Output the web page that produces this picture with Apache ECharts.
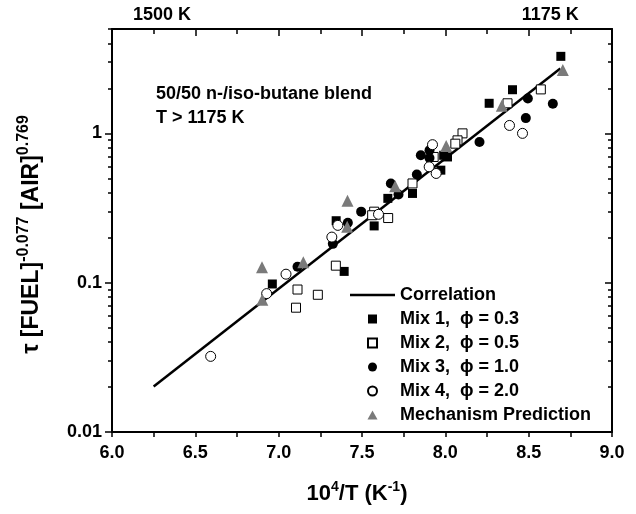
<!DOCTYPE html>
<html><head><meta charset="utf-8">
<script src="https://cdn.jsdelivr.net/npm/echarts@6/dist/echarts.min.js"></script>
<style>html,body{margin:0;padding:0;background:#fff}#c{width:636px;height:514px}</style>
</head><body><div id="c"></div>
<script>
// ---- data ----
const correlation = [[6.25, 0.0202], [8.69, 2.72]];
const mix1 = [[8.693,3.28],[8.403,1.96],[8.263,1.59],[7.99,0.713],[8.013,0.695],[7.973,0.567],[7.803,0.396],[7.655,0.367],[7.573,0.24],[7.345,0.26],[7.393,0.119],[6.962,0.098]];
const mix2 = [[8.573,1.97],[8.373,1.59],[8.103,1.0],[8.073,0.898],[8.06,0.853],[7.93,0.695],[7.803,0.462],[7.573,0.299],[7.561,0.283],[7.657,0.271],[7.343,0.13],[7.113,0.09],[7.235,0.083],[7.104,0.068]];
const mix3 = [[8.495,1.71],[8.645,1.58],[8.483,1.265],[8.205,0.875],[7.853,0.713],[7.905,0.684],[7.905,0.77],[7.829,0.53],[7.673,0.462],[7.719,0.39],[7.495,0.299],[7.415,0.252],[7.325,0.182],[7.113,0.128]];
const mix4 = [[8.385,1.13],[8.463,1.0],[7.923,0.84],[7.903,0.597],[7.945,0.539],[7.599,0.287],[7.355,0.242],[7.319,0.202],[7.044,0.114],[6.928,0.0845],[6.592,0.0321]];
const mechanism = [[8.705,2.66],[8.339,1.53],[8.005,0.823],[7.699,0.443],[7.413,0.354],[7.411,0.237],[7.148,0.137],[6.9,0.127],[6.902,0.077]];
const seriesNames = ['Correlation','Mix 1,  \u03D5 = 0.3','Mix 2,  \u03D5 = 0.5','Mix 3,  \u03D5 = 1.0','Mix 4,  \u03D5 = 2.0','Mechanism Prediction'];
const xTickLabels = ['6.0','6.5','7.0','7.5','8.0','8.5','9.0'];
const topLabels = ['1500 K','1175 K'];
const topLabelX = [6.3, 8.63];
const yTickLabels = ['0.01','0.1','1'];
const yMinorValues = [0.02,0.03,0.04,0.05,0.06,0.07,0.08,0.09,0.2,0.3,0.4,0.5,0.6,0.7,0.8,0.9,2,3,4,5];
const annotation = '50/50 n-/iso-butane blend\nT > 1175 K';

const FONT = '"Liberation Sans", Arial, sans-serif';
const X_MIN = 6, X_MAX = 9, Y_MIN = 0.01, Y_MAX = 5;
const lab = {color:'#000', fontFamily:FONT, fontWeight:'bold', fontSize:18};
const axLine = {show:true, onZero:false, lineStyle:{color:'#000', width:2}};
const minorLog = yMinorValues.map(v => Math.log10(v));
const legendIcons = ['path://M0,0H45V2.5H0Z', 'path://M0,0H10V10H0Z', 'path://M0,0H10V10H0Z',
  'circle', 'circle', 'path://M5,0L10,9L0,9Z'];

const chart = echarts.init(document.getElementById('c'));
chart.setOption({
  animation:false,
  backgroundColor:'#fff',
  textStyle:{fontFamily:FONT},
  title:{text:annotation, left:156, top:82, padding:0,
    textStyle:{fontFamily:FONT, fontWeight:'bold', fontSize:18, color:'#000', lineHeight:24}},
  legend:{orient:'vertical', left:350, top:286, padding:0, itemWidth:45, itemHeight:9, itemGap:6,
    data:seriesNames.map((n, i) => ({name:n, icon:legendIcons[i]})),
    textStyle:{...lab, fontSize:18}, selectedMode:false},
  grid:{left:112, right:24, top:29, bottom:82, containLabel:false},
  xAxis:[
    {type:'value', min:X_MIN, max:X_MAX, interval:0.5, position:'bottom',
     axisLine:axLine, splitLine:{show:false},
     axisTick:{show:true, inside:false, length:5, lineStyle:{color:'#000', width:1.5}},
     minorTick:{show:true, splitNumber:2, length:5, lineStyle:{color:'#000', width:1.5}},
     axisLabel:{...lab, margin:12, formatter:v => xTickLabels[Math.round((v - X_MIN) / 0.5)] || ''},
     name:'10{sup|4}/T (K{sup|-1})', nameLocation:'middle', nameGap:48,
     nameTextStyle:{color:'#000', fontFamily:FONT, fontWeight:'bold', fontSize:22, padding:[0,10,0,0],
       rich:{sup:{fontFamily:FONT, fontWeight:'bold', fontSize:14, color:'#000', padding:[0,0,14,0]}}}},
    {type:'value', min:X_MIN, max:X_MAX, interval:0.5, position:'top',
     axisLine:axLine, splitLine:{show:false},
     axisTick:{show:true, inside:true, length:7, lineStyle:{color:'#000', width:1.5}},
     minorTick:{show:true, splitNumber:2, length:5, lineStyle:{color:'#000', width:1.5}},
     axisLabel:{...lab, margin:5, customValues:topLabelX,
       formatter:v => topLabels[topLabelX.indexOf(v)] || ''}}
  ],
  yAxis:[
    {type:'log', logBase:10, min:Y_MIN, max:Y_MAX, interval:1, position:'left',
     axisLine:axLine, splitLine:{show:false},
     axisTick:{show:true, inside:false, length:7, lineStyle:{color:'#000', width:1.5}},
     axisLabel:{...lab, margin:10, showMaxLabel:false, formatter:v => {
        const l = Math.log10(v); const i = Math.round(l) + 2;
        return Math.abs(l - Math.round(l)) < 1e-6 ? (yTickLabels[i] || '') : '';}},
     name:'\u03C4 [FUEL]{sup|-0.077} [AIR]{sup|0.769}', nameLocation:'middle', nameGap:64,
     nameTextStyle:{color:'#000', fontFamily:FONT, fontWeight:'bold', fontSize:23, padding:[0,8,0,0],
       rich:{sup:{fontFamily:FONT, fontWeight:'bold', fontSize:16, color:'#000', padding:[0,0,16,0]}}}},
    {type:'value', min:Math.log10(Y_MIN), max:Math.log10(Y_MAX), position:'left',
     axisLine:{show:false, onZero:false}, splitLine:{show:false}, axisLabel:{show:false},
     axisTick:{show:true, inside:false, length:4, customValues:minorLog, lineStyle:{color:'#000', width:1.5}}},
    {type:'log', logBase:10, min:Y_MIN, max:Y_MAX, interval:1, position:'right',
     axisLine:axLine, splitLine:{show:false}, axisLabel:{show:false},
     axisTick:{show:true, inside:true, length:7, lineStyle:{color:'#000', width:1.5}}},
    {type:'value', min:Math.log10(Y_MIN), max:Math.log10(Y_MAX), position:'right',
     axisLine:{show:false, onZero:false}, splitLine:{show:false}, axisLabel:{show:false},
     axisTick:{show:true, inside:true, length:4, customValues:minorLog, lineStyle:{color:'#000', width:1.5}}}
  ],
  series:[
    {name:seriesNames[0], type:'line', data:correlation, symbol:'none', xAxisIndex:0, yAxisIndex:0,
     lineStyle:{color:'#000', width:2.5}, itemStyle:{color:'#000'}, z:2},
    {name:seriesNames[1], type:'scatter', data:mix1, symbol:'rect', symbolSize:9,
     itemStyle:{color:'#000', opacity:1}, z:3},
    {name:seriesNames[2], type:'scatter', data:mix2, symbol:'rect', symbolSize:9,
     itemStyle:{color:'#fff', borderColor:'#000', borderWidth:1, opacity:1}, z:3},
    {name:seriesNames[3], type:'scatter', data:mix3, symbol:'circle', symbolSize:10,
     itemStyle:{color:'#000', opacity:1}, z:3},
    {name:seriesNames[4], type:'scatter', data:mix4, symbol:'circle', symbolSize:10,
     itemStyle:{color:'#fff', borderColor:'#000', borderWidth:1, opacity:1}, z:3},
    {name:seriesNames[5], type:'scatter', data:mechanism, symbol:'triangle', symbolSize:12,
     itemStyle:{color:'#7a7a7a', opacity:1}, z:3}
  ]
});
</script></body></html>
